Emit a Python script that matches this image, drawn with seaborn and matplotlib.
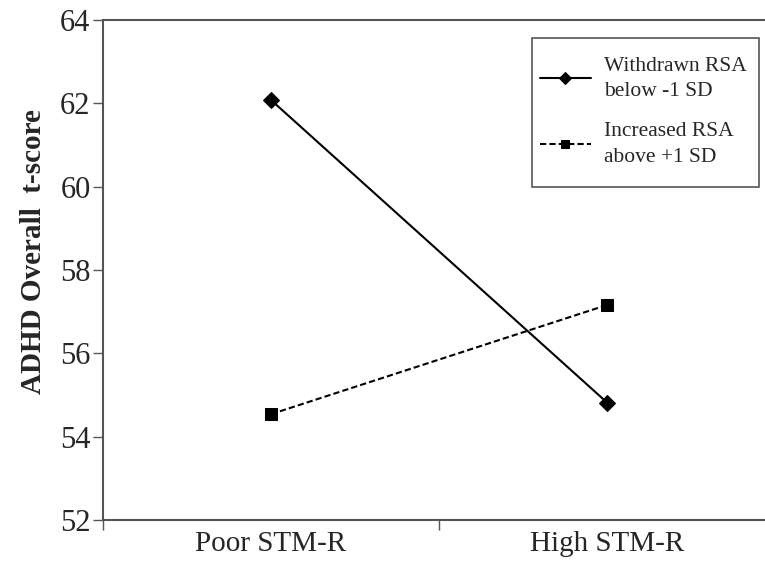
import pandas as pd
import matplotlib
matplotlib.use("Agg")
import matplotlib.pyplot as plt
from matplotlib.patches import Rectangle
import seaborn as sns

# values
conditions = ["Poor STM-R", "High STM-R"]
withdrawn_rsa = [62.08, 54.82]
increased_rsa = [54.54, 57.16]
series_names = ["Withdrawn RSA\nbelow -1 SD", "Increased RSA\nabove +1 SD"]
y_ticks = [52, 54, 56, 58, 60, 62, 64]

df = pd.DataFrame({
    "condition": conditions * 2,
    "score": withdrawn_rsa + increased_rsa,
    "group": [series_names[0]] * 2 + [series_names[1]] * 2,
})

sns.set_style("white")
plt.rcParams["font.family"] = ["Liberation Serif", "DejaVu Serif"]

W, H = 765, 568
fig = plt.figure(figsize=(W / 100, H / 100), dpi=100)
# axes runs slightly past the right edge, as in the cropped original
ax = fig.add_axes([103 / W, 48 / H, 672 / W, 500 / H])

sns.lineplot(
    data=df, x="condition", y="score", hue="group", style="group",
    palette=["black", "black"], markers=["D", "s"],
    dashes=[(None, None), (3, 1.5)], markersize=8, linewidth=1.5,
    markeredgecolor="black", sort=False, ax=ax,
)

ax.set_xlim(-0.5, 1.5)
ax.set_ylim(52, 64)
ax.set_yticks(y_ticks)
ax.set_yticklabels([str(t) for t in y_ticks])
ax.set_xticks([-0.5, 0.5, 1.5])
ax.set_xticklabels([])
for i, name in enumerate(conditions):
    ax.text(i, -0.022, name, transform=ax.get_xaxis_transform(),
            ha="center", va="top", fontsize=21)

ax.tick_params(axis="y", labelsize=22, length=7, width=1, direction="out",
               left=True, pad=2, color="#555555")
ax.tick_params(axis="x", length=7, width=1, direction="out", bottom=True,
               color="#555555")
ax.set_xlabel("")
ax.set_ylabel("ADHD Overall  t-score", fontsize=21, fontweight="bold")
ax.yaxis.set_label_coords(-0.084, 0.536)

for side in ["left", "bottom", "top", "right"]:
    ax.spines[side].set_color("#555555")
    ax.spines[side].set_linewidth(1.5)

# legend box drawn separately so its padding can match the original
fig.patches.append(Rectangle((532 / W, 1 - 187 / H), 227 / W, 149 / H,
                             transform=fig.transFigure, fill=False,
                             edgecolor="#555555", linewidth=1.2))

handles, labels = ax.get_legend_handles_labels()
leg = ax.legend(handles, labels, loc="upper left",
                bbox_to_anchor=(532 / W, 1 - 49 / H),
                bbox_transform=fig.transFigure, borderaxespad=0,
                fontsize=15.5, frameon=False, handlelength=2.4,
                handletextpad=0.6, labelspacing=1.0, borderpad=0.35,
                markerscale=0.8)
for txt in leg.get_texts():
    txt.set_linespacing(1.45)

fig.savefig("out.png", dpi=100)
